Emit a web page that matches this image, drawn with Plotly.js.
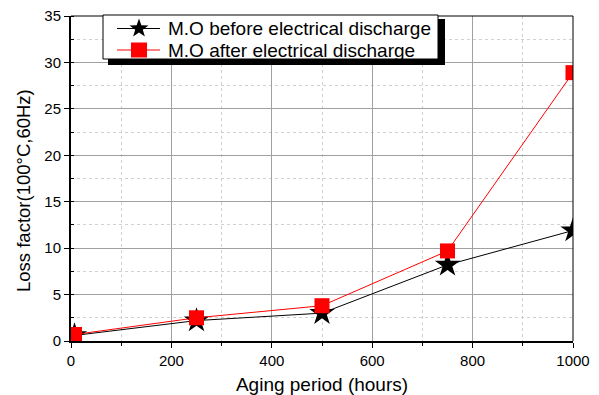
<!DOCTYPE html>
<html><head><meta charset="utf-8">
<script src="https://cdn.plot.ly/plotly-3.0.1.min.js"></script>
<style>html,body{margin:0;padding:0;background:#fff}#chart{width:599px;height:395px}</style>
</head><body><div id="chart"></div>
<script>
const hours = [7, 250, 500, 750, 1000];
const beforeDischarge = [0.6, 2.2, 3.0, 8.2, 11.9];
const afterDischarge = [0.7, 2.5, 3.8, 9.7, 28.9];
const seriesNames = ["M.O before electrical discharge", "M.O after electrical discharge"];
const seriesColors = ["#000000", "#ff0000"];
const xTitle = "Aging period (hours)";
const yTitle = "Loss factor(100°C,60Hz)";

const font = "Arial, 'Liberation Sans', sans-serif";
const W = 599, H = 395, M = {l: 71, r: 26, t: 16, b: 54};
const pw = W - M.l - M.r, ph = H - M.t - M.b;
const px = v => (v - M.l) / pw;          // pixel x -> paper
const py = v => (H - M.b - v) / ph;      // pixel y -> paper

const traces = [
  {x: hours, y: beforeDischarge, name: seriesNames[0], mode: "lines+markers",
   line: {color: seriesColors[0], width: 1}, marker: {symbol: "star", size: 19, color: seriesColors[0]}},
  {x: hours, y: afterDischarge, name: seriesNames[1], mode: "lines+markers",
   line: {color: seriesColors[1], width: 1}, marker: {symbol: "square", size: 15, color: seriesColors[1]}}
];

// star path (pixel offsets, y up)
function starPath(R, r) {
  let d = "";
  for (let i = 0; i < 10; i++) {
    const rad = i % 2 === 0 ? R : r;
    const a = Math.PI / 2 + i * Math.PI / 5;
    d += (i === 0 ? "M" : "L") + (rad * Math.cos(a)).toFixed(2) + "," + (rad * Math.sin(a)).toFixed(2);
  }
  return d + "Z";
}

// manual legend box
const box = {x0: 103, x1: 438, y0: 15, y1: 59};
const rows = [28.5, 50];
const lineX = [117, 160], symX = 139, textX = 166;
const shapes = [
  {type: "line", xref: "paper", yref: "paper", x0: 0, x1: 1, y0: 1, y1: 1, line: {color: "#000", width: 1}},
  {type: "line", xref: "paper", yref: "paper", x0: 1, x1: 1, y0: 0, y1: 1, line: {color: "#000", width: 1}},
  {type: "rect", xref: "paper", yref: "paper", x0: px(box.x0 + 5), x1: px(box.x1 + 7), y0: py(box.y1 + 6), y1: py(box.y0 + 4),
   fillcolor: "#000", line: {width: 0}, layer: "above"},
  {type: "rect", xref: "paper", yref: "paper", x0: px(box.x0), x1: px(box.x1), y0: py(box.y1), y1: py(box.y0),
   fillcolor: "#fff", line: {color: "#000", width: 1}, layer: "above"}
];
const annotations = [];
seriesNames.forEach((nm, i) => {
  shapes.push({type: "line", xref: "paper", yref: "paper", x0: px(lineX[0]), x1: px(lineX[1]), y0: py(rows[i]), y1: py(rows[i]),
    line: {color: seriesColors[i], width: 1}, layer: "above"});
  if (i === 0) {
    shapes.push({type: "path", xref: "paper", yref: "paper", xsizemode: "pixel", ysizemode: "pixel",
      xanchor: px(symX), yanchor: py(rows[i]), path: starPath(10, 4),
      fillcolor: seriesColors[i], line: {width: 0}, layer: "above"});
  } else {
    shapes.push({type: "rect", xref: "paper", yref: "paper", xsizemode: "pixel", ysizemode: "pixel",
      xanchor: px(symX), yanchor: py(rows[i]), x0: -8, x1: 8, y0: -7.5, y1: 7.5,
      fillcolor: seriesColors[i], line: {width: 0}, layer: "above"});
  }
  annotations.push({xref: "paper", yref: "paper", x: px(textX), y: py(rows[i]), xanchor: "left", yanchor: "middle",
    text: nm, showarrow: false, font: {family: font, size: 19, color: "#000"}});
});
// y axis title, placed as in the original (slightly below centre)
annotations.push({xref: "paper", yref: "paper", x: px(23), y: py(191), xanchor: "center", yanchor: "middle",
  textangle: -90, text: yTitle, showarrow: false, font: {family: font, size: 18.5, color: "#000"}});

const axisCommon = {
  showline: true, linecolor: "#000", linewidth: 2, mirror: false,
  showgrid: true, gridcolor: "#a0a0a0", gridwidth: 1,
  ticks: "outside", ticklen: 5, tickcolor: "#000", zeroline: false,
  tickfont: {family: font, size: 15, color: "#000"}
};
const layout = {
  width: W, height: H, margin: M,
  paper_bgcolor: "#fff", plot_bgcolor: "#fff",
  showlegend: false,
  xaxis: Object.assign({}, axisCommon, {
    range: [0, 1000], dtick: 200,
    minor: {dtick: 100, showgrid: true, gridcolor: "#d0d0d0", griddash: "dot", ticks: "outside", ticklen: 3, tickcolor: "#000"},
    title: {text: xTitle, font: {family: font, size: 19, color: "#000"}, standoff: 14}
  }),
  yaxis: Object.assign({}, axisCommon, {
    range: [0, 35], dtick: 5,
    minor: {dtick: 2.5, showgrid: true, gridcolor: "#d0d0d0", griddash: "dot", ticks: "inside", ticklen: 3, tickcolor: "#000"}
  }),
  shapes: shapes,
  annotations: annotations
};
Plotly.newPlot("chart", traces, layout, {displayModeBar: false});
</script></body></html>
